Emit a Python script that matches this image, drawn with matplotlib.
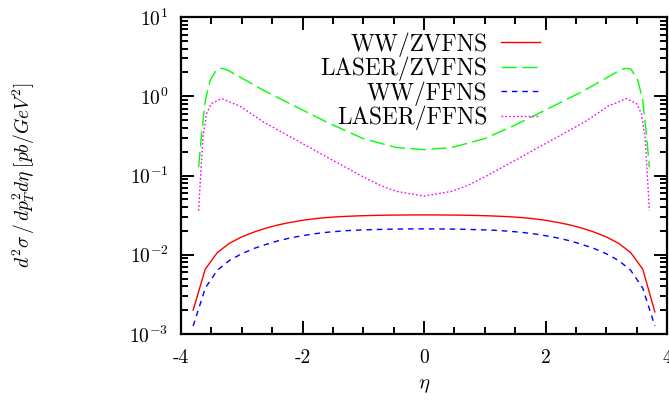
import matplotlib
matplotlib.use("Agg")
import matplotlib.pyplot as plt
from matplotlib.ticker import MultipleLocator, LogLocator, NullFormatter, FixedLocator, FixedFormatter

plt.rcParams['font.family'] = ['cmr10', 'DejaVu Serif']
plt.rcParams['mathtext.fontset'] = 'cm'
plt.rcParams['axes.formatter.use_mathtext'] = True
plt.rcParams['axes.unicode_minus'] = True

# ---- data ----
eta_ww = [-3.8, -3.6, -3.4, -3.2, -3.0, -2.8, -2.6, -2.4, -2.2, -2.0, -1.8, -1.6, -1.4, -1.2, -1.0,
          -0.8, -0.6, -0.4, -0.2, 0.0, 0.2, 0.4, 0.6, 0.8, 1.0, 1.2, 1.4, 1.6, 1.8, 2.0, 2.2, 2.4,
          2.6, 2.8, 3.0, 3.2, 3.4, 3.6, 3.8]
ww_zvfns = [0.0020, 0.0066, 0.0107, 0.0140, 0.0168, 0.0193, 0.0217, 0.0238, 0.0256, 0.0272, 0.0285,
            0.0295, 0.0302, 0.0307, 0.0311, 0.0314, 0.0316, 0.0317, 0.0318, 0.0318, 0.0318, 0.0317,
            0.0316, 0.0314, 0.0311, 0.0307, 0.0302, 0.0295, 0.0285, 0.0272, 0.0256, 0.0238, 0.0217,
            0.0193, 0.0168, 0.0140, 0.0107, 0.0066, 0.0019]
ww_ffns = [0.00126, 0.0038, 0.0064, 0.0085, 0.0103, 0.0120, 0.0135, 0.0150, 0.0163, 0.0174, 0.0184,
           0.0192, 0.0198, 0.0203, 0.0206, 0.0208, 0.0210, 0.0211, 0.0212, 0.0212, 0.0212, 0.0211,
           0.0210, 0.0208, 0.0206, 0.0203, 0.0198, 0.0192, 0.0184, 0.0174, 0.0163, 0.0150, 0.0135,
           0.0120, 0.0103, 0.0085, 0.0064, 0.0038, 0.00126]

eta_laser_zv = [-3.71, -3.66, -3.60, -3.52, -3.41, -3.33, -3.25, -3.19, -3.03, -2.645, -2.10, -1.55,
                -1.00, -0.45, 0.0, 0.45, 1.00, 1.55, 2.10, 2.645, 3.03, 3.19, 3.25, 3.33, 3.41, 3.52,
                3.60, 3.66, 3.71]
laser_zvfns = [0.127, 0.34, 0.89, 1.59, 2.19, 2.25, 2.17, 2.05, 1.75, 1.19, 0.733, 0.452,
               0.292, 0.225, 0.212, 0.225, 0.292, 0.452, 0.733, 1.19, 1.75, 2.05, 2.17, 2.25, 2.19,
               1.59, 0.89, 0.34, 0.127]

eta_laser_ff = [-3.71, -3.68, -3.64, -3.58, -3.50, -3.33, -3.19, -3.03, -2.645, -2.10, -1.55, -1.00,
                -0.72, -0.45, 0.0, 0.45, 0.72, 1.00, 1.55, 2.10, 2.645, 3.03, 3.19, 3.33, 3.50,
                3.58, 3.64, 3.68, 3.71]
laser_ffns = [0.036, 0.09, 0.30, 0.60, 0.81, 0.935, 0.84, 0.75, 0.474, 0.279, 0.163, 0.096,
              0.075, 0.063, 0.055, 0.063, 0.075, 0.096, 0.163, 0.279, 0.474, 0.75, 0.84, 0.935, 0.81,
              0.60, 0.30, 0.09, 0.036]

labels = ['WW/ZVFNS', 'LASER/ZVFNS', 'WW/FFNS', 'LASER/FFNS']
xtick_vals = [-4, -2, 0, 2, 4]
xtick_labels = ['-4', '-2', '0', '2', '4']

fig = plt.figure(figsize=(6.69, 4.05), dpi=100)
ax = fig.add_axes([181/669, 1-334/405, (667-181)/669, (334-17)/405])

ax.plot(eta_ww, ww_zvfns, color='#ff0000', lw=1.0, label=labels[0])
ax.plot(eta_laser_zv, laser_zvfns, color='#00ff00', lw=1.0, dashes=(11, 4), label=labels[1])
ax.plot(eta_ww, ww_ffns, color='#0000ff', lw=1.0, dashes=(4, 3.5), label=labels[2])
ax.plot(eta_laser_ff, laser_ffns, color='#ff00ff', lw=1.0, dashes=(1.2, 1.6), label=labels[3])

ax.set_yscale('log')
ax.set_xlim(-4, 4)
ax.set_ylim(1e-3, 1e1)
ax.xaxis.set_major_locator(FixedLocator(xtick_vals))
ax.xaxis.set_major_formatter(FixedFormatter(xtick_labels))
ax.xaxis.set_minor_locator(MultipleLocator(0.5))
ax.yaxis.set_major_locator(LogLocator(base=10, numticks=10))
ax.yaxis.set_minor_locator(LogLocator(base=10, subs=range(2, 10), numticks=10))
ax.yaxis.set_minor_formatter(NullFormatter())

for s in ax.spines.values():
    s.set_linewidth(1.6)
ax.tick_params(which='both', direction='in', top=True, right=True, width=1.4)
ax.tick_params(which='major', length=9.5, labelsize=14)
ax.tick_params(axis='x', which='major', pad=11)
ax.tick_params(axis='y', which='major', pad=9)
ax.tick_params(which='minor', length=5)

ax.set_xlabel(r'$\eta$', fontsize=15)
ax.xaxis.set_label_coords(0.5, -0.135)
ax.set_ylabel(r'$d^2\sigma\,/\,dp_T^2 d\eta\;[pb/GeV^2]$', fontsize=14)
ax.yaxis.set_label_coords(-0.296, 0.5)

leg = ax.legend(loc='upper right', bbox_to_anchor=((535-181)/486 + 0.01, (334-32)/317),
                frameon=False, markerfirst=False, fontsize=16.8, handlelength=1.65,
                handletextpad=0.6, labelspacing=0.0, borderpad=0.0, borderaxespad=0.0)

fig.savefig('out.png', dpi=100)
